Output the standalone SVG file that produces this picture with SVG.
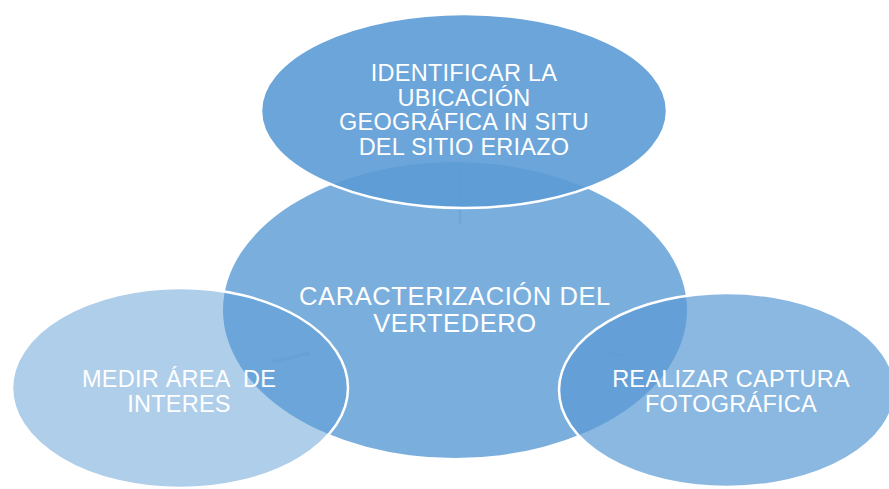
<svg xmlns="http://www.w3.org/2000/svg" width="889" height="489" viewBox="0 0 889 489">
<style>
.lbl{font-family:"Liberation Sans",Arial,sans-serif;fill:#ffffff;text-anchor:middle;white-space:pre}
.sm{font-size:23.5px;letter-spacing:0.25px}
.lg{font-size:25.5px;letter-spacing:0.6px}
.child{stroke:#ffffff;stroke-width:2.5}
.conn{stroke:#4f8fcb;stroke-width:2.5;stroke-opacity:0.25;fill:none}
</style>
<rect width="889" height="489" fill="#ffffff"/>
<g id="center">
<ellipse cx="455" cy="310" rx="232" ry="148" fill="#5b9bd5" fill-opacity="0.81"/>
</g>
<g id="connectors">
<line class="conn" x1="460" y1="162" x2="460" y2="224"/>
<line class="conn" x1="310" y1="353" x2="272" y2="362"/>
<line class="conn" x1="610" y1="353" x2="628" y2="357"/>
</g>
<g id="node-top">
<ellipse class="child" cx="464" cy="111" rx="203" ry="97" fill="#5b9bd5" fill-opacity="0.9"/>
<text class="lbl sm" x="464" y="81">IDENTIFICAR LA</text>
<text class="lbl sm" x="464" y="106">UBICACIÓN</text>
<text class="lbl sm" x="464" y="130">GEOGRÁFICA IN SITU</text>
<text class="lbl sm" x="464" y="155">DEL SITIO ERIAZO</text>
</g>
<g id="center-label">
<text class="lbl lg" x="455" y="305">CARACTERIZACIÓN DEL</text>
<text class="lbl lg" x="455" y="332">VERTEDERO</text>
</g>
<g id="node-left">
<ellipse class="child" cx="180" cy="388" rx="168" ry="100" fill="#5b9bd5" fill-opacity="0.49"/>
<text class="lbl sm" x="179" y="387">MEDIR ÁREA  DE</text>
<text class="lbl sm" x="179" y="412">INTERES</text>
</g>
<g id="node-right">
<ellipse class="child" cx="727" cy="390" rx="168" ry="97" fill="#5b9bd5" fill-opacity="0.71"/>
<text class="lbl sm" x="731" y="387">REALIZAR CAPTURA</text>
<text class="lbl sm" x="731" y="412">FOTOGRÁFICA</text>
</g>
</svg>
